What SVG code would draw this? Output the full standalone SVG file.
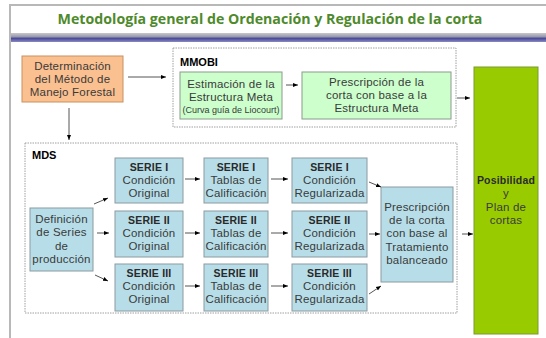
<svg xmlns="http://www.w3.org/2000/svg" width="546" height="338" viewBox="0 0 546 338">
<defs>
<linearGradient id="band" x1="0" y1="0" x2="0" y2="1">
<stop offset="0" stop-color="#c8c8c8"/>
<stop offset="0.4" stop-color="#9a9ab0"/>
<stop offset="0.6" stop-color="#4a4a9a"/>
<stop offset="1" stop-color="#8a8ac0"/>
</linearGradient>
<marker id="ah" markerWidth="6" markerHeight="6" refX="5" refY="3" orient="auto" markerUnits="userSpaceOnUse">
<path d="M0,1 L5,3 L0,5 Z" fill="#000"/>
</marker>
<style>
text{font-family:"Liberation Sans",Arial,sans-serif;fill:#3a3a3a;text-anchor:middle;font-size:11.5px;letter-spacing:0.2px}
.title{font-family:"Open Sans","Noto Sans",sans-serif;font-size:14.2px;font-weight:bold;fill:#4e8a2c;letter-spacing:0}
.lbl{font-weight:bold;font-size:11px;fill:#000;text-anchor:start;letter-spacing:0}
.b{font-weight:bold;font-size:10.5px;fill:#2a2a2a;letter-spacing:0.2px}
.sm{font-size:9px;letter-spacing:0}
.blue{fill:#b7dee8;stroke:#8c9aa0;stroke-width:1}
.green{fill:#ccffcc;stroke:#8c9a8c;stroke-width:1}
.dash{fill:none;stroke:#a0a0a0;stroke-width:1;stroke-dasharray:1.5,1}
.c line{stroke:#555;stroke-width:1;marker-end:url(#ah)}
</style>
</defs>
<rect width="546" height="338" fill="#fff"/>
<rect x="10" y="5" width="560" height="400" fill="none" stroke="#b8b8b8" stroke-width="2"/>
<rect x="11" y="33" width="535" height="9" fill="url(#band)"/>
<text class="title" x="270" y="24">Metodología general de Ordenación y Regulación de la corta</text>

<rect class="dash" x="173" y="48" width="283" height="79"/>
<text class="lbl" x="180" y="66">MMOBI</text>
<rect class="dash" x="25" y="143" width="432" height="170"/>
<text class="lbl" x="32" y="159">MDS</text>

<g id="det">
<rect x="22" y="56" width="101" height="46" fill="#fac090" stroke="#c89060" stroke-width="1"/>
<text x="72.5" y="70">Determinación</text>
<text x="72.5" y="83">del Método de</text>
<text x="72.5" y="96">Manejo Forestal</text>
</g>
<g id="est">
<rect class="green" x="180" y="72" width="102" height="47"/>
<text x="231" y="88">Estimación de la</text>
<text x="231" y="101">Estructura Meta</text>
<text class="sm" x="231" y="113">(Curva guía de Liocourt)</text>
</g>
<g id="presc1">
<rect class="green" x="302" y="72" width="149" height="47"/>
<text x="376.5" y="86">Prescripción de la</text>
<text x="376.5" y="99">corta con base a la</text>
<text x="376.5" y="112">Estructura Meta</text>
</g>
<g id="posib">
<rect x="474" y="67" width="64" height="267" fill="#99cc00" stroke="#7a9a30" stroke-width="1"/>
<text x="506" y="184" class="b">Posibilidad</text>
<text x="506" y="197">y</text>
<text x="506" y="211">Plan de</text>
<text x="506" y="224">cortas</text>
</g>
<g id="def">
<rect class="blue" x="30" y="208" width="63" height="63"/>
<text x="61.5" y="223">Definición</text>
<text x="61.5" y="236">de Series</text>
<text x="61.5" y="250">de</text>
<text x="61.5" y="263">producción</text>
</g>
<g id="s1o">
<rect class="blue" x="115" y="158" width="68" height="45"/>
<text class="b" x="149" y="171">SERIE I</text>
<text x="149" y="184">Condición</text>
<text x="149" y="197">Original</text>
</g>
<g id="s2o">
<rect class="blue" x="115" y="211" width="68" height="46"/>
<text class="b" x="149" y="224">SERIE II</text>
<text x="149" y="237">Condición</text>
<text x="149" y="250">Original</text>
</g>
<g id="s3o">
<rect class="blue" x="115" y="264" width="68" height="47"/>
<text class="b" x="149" y="277">SERIE III</text>
<text x="149" y="290">Condición</text>
<text x="149" y="303">Original</text>
</g>
<g id="s1t">
<rect class="blue" x="204" y="158" width="64" height="45"/>
<text class="b" x="236" y="171">SERIE I</text>
<text x="236" y="184">Tablas de</text>
<text x="236" y="197">Calificación</text>
</g>
<g id="s2t">
<rect class="blue" x="204" y="211" width="64" height="46"/>
<text class="b" x="236" y="224">SERIE II</text>
<text x="236" y="237">Tablas de</text>
<text x="236" y="250">Calificación</text>
</g>
<g id="s3t">
<rect class="blue" x="204" y="264" width="64" height="47"/>
<text class="b" x="236" y="277">SERIE III</text>
<text x="236" y="290">Tablas de</text>
<text x="236" y="303">Calificación</text>
</g>
<g id="s1r">
<rect class="blue" x="292" y="158" width="75" height="45"/>
<text class="b" x="329.5" y="171">SERIE I</text>
<text x="329.5" y="184">Condición</text>
<text x="329.5" y="197">Regularizada</text>
</g>
<g id="s2r">
<rect class="blue" x="292" y="211" width="75" height="46"/>
<text class="b" x="329.5" y="224">SERIE II</text>
<text x="329.5" y="237">Condición</text>
<text x="329.5" y="250">Regularizada</text>
</g>
<g id="s3r">
<rect class="blue" x="292" y="264" width="75" height="47"/>
<text class="b" x="329.5" y="277">SERIE III</text>
<text x="329.5" y="290">Condición</text>
<text x="329.5" y="303">Regularizada</text>
</g>
<g id="presc2">
<rect class="blue" x="381" y="187" width="72" height="95"/>
<text x="417" y="211">Prescripción</text>
<text x="417" y="224">de la corta</text>
<text x="417" y="237">con base al</text>
<text x="417" y="251">Tratamiento</text>
<text x="417" y="264">balanceado</text>
</g>

<g class="c" id="connectors">
<line x1="128" y1="77" x2="166" y2="77"/>
<line x1="286" y1="85" x2="298" y2="85"/>
<line x1="457" y1="98" x2="470" y2="98"/>
<line x1="69" y1="108" x2="69" y2="140"/>
<line x1="94" y1="204" x2="108" y2="198"/>
<line x1="97" y1="233" x2="109" y2="233"/>
<line x1="95" y1="275" x2="108" y2="281"/>
<line x1="185" y1="179" x2="200" y2="179"/>
<line x1="185" y1="233" x2="200" y2="233"/>
<line x1="185" y1="286" x2="200" y2="286"/>
<line x1="271" y1="179" x2="288" y2="179"/>
<line x1="271" y1="233" x2="288" y2="233"/>
<line x1="271" y1="286" x2="288" y2="286"/>
<line x1="369" y1="182" x2="381" y2="187"/>
<line x1="369" y1="234" x2="380" y2="234"/>
<line x1="369" y1="294" x2="381" y2="286"/>
<line x1="462" y1="234" x2="473" y2="234"/>
</g>
</svg>
